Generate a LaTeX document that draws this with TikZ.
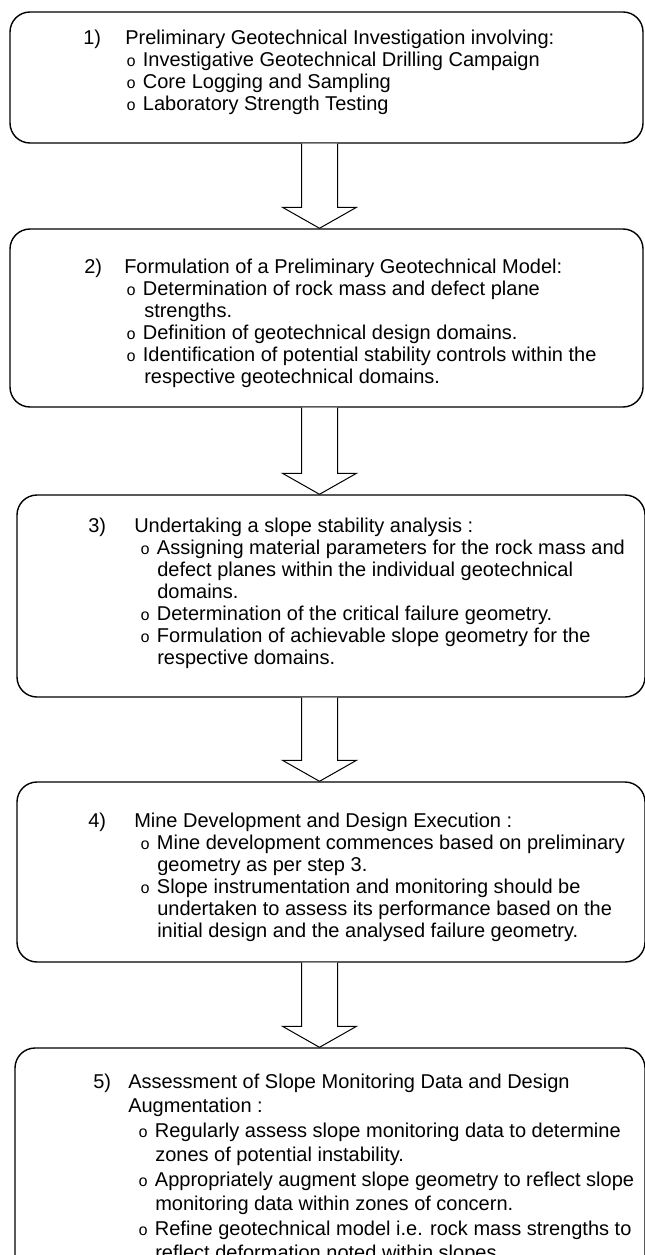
\documentclass[tikz,border=0pt]{standalone}
\usepackage{fontspec}
\setmainfont{Liberation Sans}
\newfontfamily\bulletfont{Liberation Mono}
\usetikzlibrary{calc,fit}

\newcommand{\bul}{\makebox[12.5pt][l]{\bulletfont\fontsize{12pt}{12pt}\selectfont o}}

\tikzset{
  stepbox/.style={draw, line width=1.05pt, rounded corners=15pt, inner sep=0pt},
  txt/.style={anchor=base west, inner sep=0pt, font=\fontsize{15pt}{17pt}\selectfont},
  blockarr/.style={draw, line width=0.75pt, fill=white}
}

% hollow block arrow from the bottom of one box to the top of the next
\newcommand{\flowarrow}[2]{%
  \draw[blockarr] ($(#1.south -| ax)+(-18,0)$) -- ($(#2.north -| ax)+(-18,-21)$) -- ($(#2.north -| ax)+(-37,-21)$) -- (#2.north -| ax) -- ($(#2.north -| ax)+(37,-21)$) -- ($(#2.north -| ax)+(18,-21)$) -- ($(#1.south -| ax)+(18,0)$);}

\begin{document}
\begin{tikzpicture}[x=0.75pt,y=0.75pt,yscale=-1,xscale=1]
\useasboundingbox (0,0) rectangle (645,1255);
\coordinate (ax) at (319.5,0);

%Shape: Rounded Rect [step 1]
\node[stepbox, fit={(10,12) (643,143)}] (box1) {};
%Shape: Rounded Rect [step 2]
\node[stepbox, fit={(10,229) (643,407)}] (box2) {};
%Shape: Rounded Rect [step 3]
\node[stepbox, fit={(17,495) (645,697)}] (box3) {};
%Shape: Rounded Rect [step 4]
\node[stepbox, fit={(17,782) (645,962)}] (box4) {};
%Shape: Rounded Rect [step 5]
\node[stepbox, fit={(15,1048) (645,1300)}] (box5) {};

%Shape: Block Arrows
\flowarrow{box1}{box2}
\flowarrow{box2}{box3}
\flowarrow{box3}{box4}
\flowarrow{box4}{box5}

% Text Node
\node[txt] (n1) at (83,45) {1)};
\node[txt] (h1) at (125,45) {Preliminary Geotechnical Investigation involving:};
\node[txt] (b1a) at (126,67) {\bul Investigative Geotechnical Drilling Campaign};
\node[txt] (b1b) at (126,89) {\bul Core Logging and Sampling};
\node[txt] (b1c) at (126,111) {\bul Laboratory Strength Testing};

% Text Node
\node[txt] (n2) at (84,273) {2)};
\node[txt] (h2) at (124,273) {Formulation of a Preliminary Geotechnical Model:};
\node[txt] (b2a) at (126,295) {\bul Determination of rock mass and defect plane};
\node[txt] (c2a) at (144,317) {strengths.};
\node[txt] (b2b) at (126,339) {\bul Definition of geotechnical design domains.};
\node[txt] (b2c) at (126,361) {\bul Identification of potential stability controls within the};
\node[txt] (c2c) at (144,383) {respective geotechnical domains.};

% Text Node
\node[txt] (n3) at (88,532) {3)};
\node[txt] (h3) at (134,532) {Undertaking a slope stability analysis :};
\node[txt] (b3a) at (140,554) {\bul Assigning material parameters for the rock mass and};
\node[txt] (c3a) at (157,576) {defect planes within the individual geotechnical};
\node[txt] (d3a) at (157,598) {domains.};
\node[txt] (b3b) at (140,620) {\bul Determination of the critical failure geometry.};
\node[txt] (b3c) at (140,642) {\bul Formulation of achievable slope geometry for the};
\node[txt] (c3c) at (157,664) {respective domains.};

% Text Node
\node[txt] (n4) at (88,827) {4)};
\node[txt] (h4) at (134,827) {Mine Development and Design Execution :};
\node[txt] (b4a) at (140,849) {\bul Mine development commences based on preliminary};
\node[txt] (c4a) at (157,871) {geometry as per step 3.};
\node[txt] (b4b) at (140,893) {\bul Slope instrumentation and monitoring should be};
\node[txt] (c4b) at (157,915) {undertaken to assess its performance based on the};
\node[txt] (d4b) at (157,937) {initial design and the analysed failure geometry.};

% Text Node
\node[txt] (n5) at (93,1088) {5)};
\node[txt] (h5) at (128,1088) {Assessment of Slope Monitoring Data and Design};
\node[txt] (i5) at (128,1112.5) {Augmentation :};
\node[txt] (b5a) at (138,1137) {\bul Regularly assess slope monitoring data to determine};
\node[txt] (c5a) at (155,1161.5) {zones of potential instability.};
\node[txt] (b5b) at (138,1186) {\bul Appropriately augment slope geometry to reflect slope};
\node[txt] (c5b) at (155,1210.5) {monitoring data within zones of concern.};
\node[txt] (b5c) at (138,1235) {\bul Refine geotechnical model i.e. rock mass strengths to};
\node[txt] (c5c) at (155,1259.5) {reflect deformation noted within slopes.};
\end{tikzpicture}
\end{document}
